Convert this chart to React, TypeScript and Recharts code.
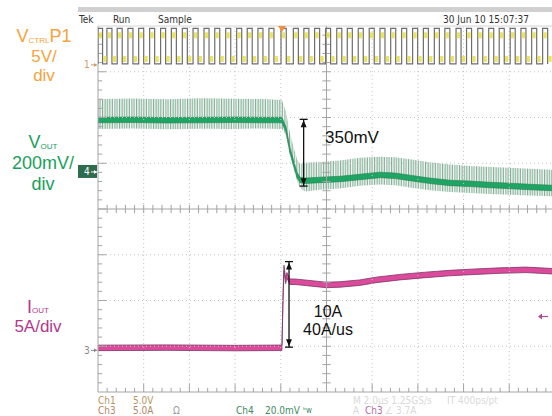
import { ComposedChart, Line, Area, XAxis, YAxis, ReferenceLine, ReferenceDot } from 'recharts'

// time in µs (M 2.0µs/div), visible screen ends a bit before 10 div
const T_END = 19.87
const TRIGGER_T = 8.05
const GRID_T = [2, 4, 6, 8, 12, 14, 16, 18]
const GRID_DIV = [-3, -2, -1, 1, 2, 3]

// channel setup: units per div and ground marker position (div from centre)
const CH1 = { scale: 5, pos: 3.15 } // V/div
const CH4 = { scale: 200, pos: 0.81 } // mV/div
const CH3 = { scale: 5, pos: -3.09 } // A/div

// Ch1 VCTRL square wave, edges in µs, levels in V
const CH1_HIGH = 4.0
const CH1_LOW = 0.1
const CH1_RISE = [0.0, 0.39, 0.84, 1.31, 1.78, 2.26, 2.74, 3.21, 3.69, 4.16, 4.64, 5.11, 5.59, 6.07, 6.53, 7.0, 7.48, 8.01, 8.55, 9.01, 9.48, 9.96, 10.45, 10.91, 11.39, 11.87, 12.34, 12.81, 13.29, 13.77, 14.24, 14.72, 15.18, 15.67, 16.13, 16.62, 17.1, 17.56, 18.04, 18.51, 18.98, 19.46]
const CH1_FALL = [0.2, 0.61, 1.06, 1.53, 2.0, 2.48, 2.96, 3.43, 3.91, 4.38, 4.86, 5.33, 5.81, 6.29, 6.75, 7.22, 7.7, 8.24, 8.77, 9.23, 9.7, 10.18, 10.67, 11.13, 11.61, 12.09, 12.56, 13.03, 13.51, 13.99, 14.46, 14.94, 15.4, 15.89, 16.35, 16.84, 17.32, 17.78, 18.26, 18.73, 19.2, 19.68]

// Ch4 VOUT (mV from marker): mean trace and ripple spike envelope
const VOUT_T = [0, 1.5, 3.0, 4.5, 6.0, 7.2, 8.05, 8.23, 8.4, 8.58, 8.71, 8.84, 9.06, 9.71, 10.59, 11.46, 12.34, 13.0, 13.65, 14.53, 15.4, 16.28, 17.15, 18.03, 18.9, 19.87]
const VOUT_MEAN = [227, 228, 226, 227, 228, 227, 227, 184, 96, 31, -13, -35, -39, -35, -31, -22, -13, -17, -26, -39, -48, -52, -57, -61, -66, -70]
const VOUT_PEAK = [319, 321, 318, 322, 320, 319, 315, 262, 170, 100, 55, 35, 40, 44, 50, 62, 66, 64, 55, 42, 32, 26, 22, 18, 14, 10]
const VOUT_VALLEY = [188, 190, 187, 189, 188, 190, 188, 160, 75, 10, -40, -70, -85, -78, -72, -60, -55, -58, -68, -80, -88, -92, -96, -100, -103, -106]

// Ch3 IOUT (A)
const IOUT_T = [0, 3.0, 6.0, 8.0, 8.05, 8.1, 8.14, 8.21, 8.27, 8.4, 8.62, 8.84, 9.98, 10.59, 11.46, 12.17, 13.21, 14.35, 15.4, 16.54, 17.59, 18.73, 19.87]
const IOUT_A = [0.27, 0.3, 0.25, 0.28, 0.3, 6.0, 9.0, 7.6, 8.2, 7.5, 7.5, 7.45, 7.15, 7.2, 7.4, 7.7, 8.0, 8.25, 8.45, 8.6, 8.72, 8.8, 8.65]
const TRIGGER_LEVEL = 3.7

const dom = (ch: { scale: number; pos: number }) => [(-4 - ch.pos) * ch.scale, (4 - ch.pos) * ch.scale]

const ch1Data = CH1_RISE.flatMap((r, i) => [
  { t: r, v: CH1_LOW },
  { t: r, v: CH1_HIGH, blob: 'top' },
  { t: CH1_FALL[i], v: CH1_HIGH },
  { t: CH1_FALL[i], v: CH1_LOW, blob: 'bottom' },
])
const voutBand = VOUT_T.map((t, i) => ({ t, r: [VOUT_MEAN[i] - 12, VOUT_MEAN[i] + 12] }))
const voutSpikes = VOUT_T.map((t, i) => ({ t, r: [VOUT_VALLEY[i], VOUT_PEAK[i]] }))
const ioutBand = IOUT_T.map((t, i) => ({ t, r: [IOUT_A[i] - 0.3, IOUT_A[i] + 0.3] }))

const GRID = '#c4c4c4'
const AXIS = '#a4a4a4'
const SANS = "'Liberation Sans', Arial, sans-serif"
const NARROW = "'Liberation Sans Narrow', 'DejaVu Sans Condensed', sans-serif"

const renderBlob = (p: any) => {
  const { cx, cy, payload, index } = p
  if (!payload.blob) return <g key={`b${index}`} />
  const y = payload.blob === 'top' ? cy + 4 : cy - 8
  return <rect key={`b${index}`} x={cx + 0.8} y={y} width={3.2} height={6} fill="#e6df45" opacity={0.85} />
}

const arrowHead = (dir: 'up' | 'down') => (p: any) => {
  const { cx, cy } = p
  const d = dir === 'up' ? `M${cx},${cy + 1}L${cx - 3},${cy + 8}L${cx + 3},${cy + 8}Z` : `M${cx},${cy - 1}L${cx - 3},${cy - 8}L${cx + 3},${cy - 8}Z`
  return (
    <g>
      <line x1={cx - 4} x2={cx + 4} y1={cy} y2={cy} stroke="#111" strokeWidth={1.3} />
      <path d={d} fill="#111" />
    </g>
  )
}

const chMarker = (label: string, color: string, boxed?: boolean) => (p: any) => {
  const { cx, cy } = p
  return (
    <g>
      {boxed && <rect x={cx - 20} y={cy - 7} width={19} height={13} fill="#2f6b4f" />}
      <text x={cx - 14} y={cy + 3.5} fontSize={10} fontFamily={NARROW} fill={boxed ? '#fff' : color}>{label}</text>
      <line x1={cx - 7} x2={cx - 1} y1={cy} y2={cy} stroke={boxed ? '#fff' : color} strokeWidth={1} />
      <path d={`M${cx - 1},${cy}L${cx - 4},${cy - 2}L${cx - 4},${cy + 2}Z`} fill={boxed ? '#fff' : color} />
    </g>
  )
}

const triggerPos = (p: any) => {
  const { cx, cy } = p
  return <path d={`M${cx - 4},${cy}L${cx + 4},${cy}L${cx},${cy + 6}Z`} fill="#f0903e" />
}

const triggerLevel = (p: any) => {
  const { cx, cy } = p
  return (
    <g>
      <line x1={cx - 13} x2={cx - 4} y1={cy} y2={cy} stroke="#a8508e" strokeWidth={1.2} />
      <path d={`M${cx - 14},${cy}L${cx - 10},${cy - 3}L${cx - 10},${cy + 3}Z`} fill="#a8508e" />
    </g>
  )
}

export default function App() {
  const minorDiv: number[] = []
  for (let k = 1; k < 40; k++) minorDiv.push(-4 + k * 0.2)
  const minorT: number[] = []
  for (let k = 1; k < 50; k++) minorT.push(k * 0.4)

  return (
    <div style={{ position: 'fixed', left: 0, top: 0, width: 552, height: 416, overflow: 'hidden', background: '#fff' }}>
      <style>{'html,body{margin:0;overflow:hidden}'}</style>
      <svg width={0} height={0} style={{ position: 'absolute' }}>
        <defs>
          <pattern id="voutSpikes" width={3.4} height={10} patternUnits="userSpaceOnUse">
            <rect width={3.4} height={10} fill="#f1f8f3" />
            <rect x={0} width={0.7} height={10} fill="#7d8b84" />
            <rect x={1.7} width={0.8} height={10} fill="#86c9a3" />
          </pattern>
        </defs>
      </svg>
      <ComposedChart width={552} height={416} margin={{ top: 26, right: 0, bottom: 24, left: 98 }}>
        <XAxis type="number" dataKey="t" domain={[0, T_END]} hide allowDataOverflow />
        <YAxis yAxisId="div" type="number" domain={[-4, 4]} hide allowDataOverflow />
        <YAxis yAxisId="ch1" type="number" domain={dom(CH1)} hide allowDataOverflow />
        <YAxis yAxisId="ch4" type="number" domain={dom(CH4)} hide allowDataOverflow />
        <YAxis yAxisId="ch3" type="number" domain={dom(CH3)} hide allowDataOverflow />

        {GRID_T.map((t) => (
          <ReferenceLine key={`gx${t}`} x={t} yAxisId="div" stroke={GRID} strokeDasharray="1 3" />
        ))}
        {GRID_DIV.map((d) => (
          <ReferenceLine key={`gy${d}`} y={d} yAxisId="div" stroke={GRID} strokeDasharray="1 3" />
        ))}
        <ReferenceLine x={10} yAxisId="div" stroke={AXIS} />
        <ReferenceLine y={0} yAxisId="div" stroke={AXIS} />
        <ReferenceLine x={0} yAxisId="div" stroke={AXIS} />
        <ReferenceLine y={-4} yAxisId="div" stroke={AXIS} />
        <ReferenceLine y={4} yAxisId="div" stroke="#d4d4d4" />
        {minorDiv.map((d, k) => (
          <ReferenceLine key={`cy${k}`} yAxisId="div" stroke={AXIS} segment={[{ x: 10 - 0.18, y: d }, { x: 10 + 0.18, y: d }]} />
        ))}
        {minorT.map((t, k) => (
          <ReferenceLine key={`cx${k}`} yAxisId="div" stroke={AXIS} segment={[{ x: t, y: -0.09 }, { x: t, y: 0.09 }]} />
        ))}
        {minorDiv.map((d, k) => (
          <ReferenceLine key={`ly${k}`} yAxisId="div" stroke={AXIS} segment={[{ x: 0, y: d }, { x: (k + 1) % 5 === 0 ? 0.36 : 0.18, y: d }]} />
        ))}
        {minorT.map((t, k) => (
          <ReferenceLine key={`bx${k}`} yAxisId="div" stroke={AXIS} segment={[{ x: t, y: -4 }, { x: t, y: (k + 1) % 5 === 0 ? -3.82 : -3.91 }]} />
        ))}

        <Line data={ch1Data} dataKey="v" yAxisId="ch1" stroke="#6e6e6e" strokeWidth={1.2} dot={renderBlob} activeDot={false} isAnimationActive={false} />

        <Area data={voutSpikes} dataKey="r" yAxisId="ch4" stroke="none" fill="url(#voutSpikes)" fillOpacity={1} activeDot={false} isAnimationActive={false} />
        <Area data={voutBand} dataKey="r" yAxisId="ch4" stroke="#2a7d52" strokeWidth={0.6} fill="#1ea563" fillOpacity={1} activeDot={false} isAnimationActive={false} />

        <Area data={ioutBand} dataKey="r" yAxisId="ch3" stroke="#7b3565" strokeWidth={0.8} fill="#dc4a9c" fillOpacity={1} activeDot={false} isAnimationActive={false} />

        <ReferenceLine yAxisId="ch4" stroke="#111" strokeWidth={1.3} segment={[{ x: 9.0, y: 230 }, { x: 9.0, y: -62 }]} />
        <ReferenceDot x={9.0} y={230} yAxisId="ch4" shape={arrowHead('up')} />
        <ReferenceDot x={9.0} y={-62} yAxisId="ch4" shape={arrowHead('down')} />
        <ReferenceLine yAxisId="ch3" stroke="#111" strokeWidth={1.3} segment={[{ x: 8.36, y: 9.7 }, { x: 8.36, y: 0.35 }]} />
        <ReferenceDot x={8.36} y={9.7} yAxisId="ch3" shape={arrowHead('up')} />
        <ReferenceDot x={8.36} y={0.35} yAxisId="ch3" shape={arrowHead('down')} />

        <ReferenceDot x={0} y={0} yAxisId="ch1" ifOverflow="visible" shape={chMarker('1', '#c9a06a')} />
        <ReferenceDot x={0} y={0} yAxisId="ch4" ifOverflow="visible" shape={chMarker('4', '#2f6b4f', true)} />
        <ReferenceDot x={0} y={0} yAxisId="ch3" ifOverflow="visible" shape={chMarker('3', '#8a8a8a')} />
        <ReferenceDot x={TRIGGER_T} y={4} yAxisId="div" ifOverflow="visible" shape={triggerPos} />
        <ReferenceDot x={T_END} y={TRIGGER_LEVEL} yAxisId="ch3" ifOverflow="visible" shape={triggerLevel} />
      </ComposedChart>

      <svg width={552} height={416} style={{ position: 'absolute', left: 0, top: 0, pointerEvents: 'none' }}>
        <rect x={78} y={7} width={474} height={5} fill="#d0d0d0" />
        <g fontFamily={NARROW} fontSize={10} fill="#333">
          <text x={79} y={23}>Tek</text>
          <text x={113} y={23}>Run</text>
          <text x={158} y={23}>Sample</text>
          <text x={443} y={23}>30 Jun 10 15:07:37</text>
        </g>

        <g fontFamily={SANS} fontSize={17} textAnchor="middle">
          <text x={44} y={42} fill="#f5a340" fontSize={18}>
            V<tspan fontSize={8} dy={1}>CTRL</tspan><tspan dy={-1}>P1</tspan>
          </text>
          <text x={44} y={62} fill="#f5a340">5V/</text>
          <text x={44} y={81} fill="#f5a340">div</text>

          <text x={43} y={148} fill="#17a05a" fontSize={18}>
            V<tspan fontSize={8} dy={1}>OUT</tspan>
          </text>
          <text x={43} y={169} fill="#17a05a" fontSize={18}>200mV/</text>
          <text x={43} y={190} fill="#17a05a" fontSize={18}>div</text>

          <text x={38} y={313} fill="#b3388d" fontSize={18}>
            I<tspan fontSize={8} dy={0}>OUT</tspan>
          </text>
          <text x={38} y={332} fill="#b3388d">5A/div</text>

          <text x={352} y={143} fill="#111">350mV</text>
          <text x={328} y={317} fill="#111" fontSize={16}>10A</text>
          <text x={328} y={335} fill="#111" fontSize={16}>40A/us</text>
        </g>

        <g fontFamily={NARROW} fontSize={10}>
          <text x={98} y={404} fill="#b59660">Ch1</text>
          <text x={133} y={404} fill="#b59660">5.0V</text>
          <text x={98} y={414} fill="#b08868">Ch3</text>
          <text x={133} y={414} fill="#b08868">5.0A</text>
          <text x={173} y={414} fill="#999">Ω</text>
          <text x={236} y={414} fill="#3d8a62">Ch4</text>
          <text x={265} y={414} fill="#3d8a62">20.0mV</text>
          <text x={303} y={413} fill="#3d8a62" fontSize={8}>ᵇw</text>
          <text x={353} y={404} fill="#d9d9d9">M 2.0µs 1.25GS/s</text>
          <text x={447} y={404} fill="#d9d9d9">IT 400ps/pt</text>
          <text x={353} y={414} fill="#d9d9d9">A</text>
          <text x={365} y={414} fill="#b070a4">Ch3</text>
          <text x={385} y={414} fill="#d9d9d9">∠ 3.7A</text>
        </g>
      </svg>
    </div>
  )
}
